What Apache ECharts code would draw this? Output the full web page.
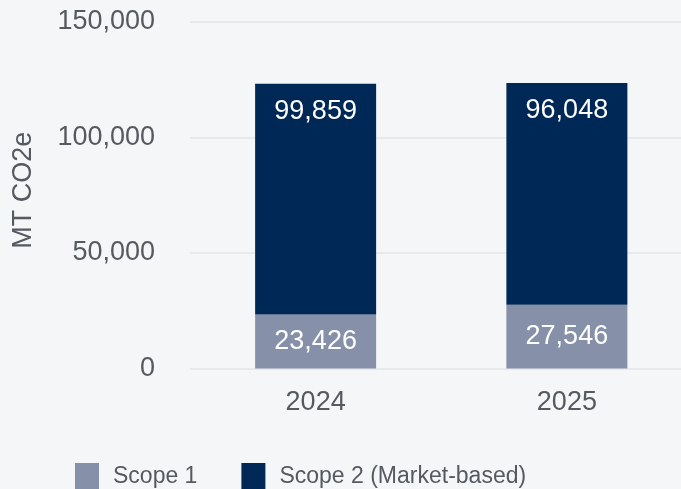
<!DOCTYPE html>
<html>
<head>
<meta charset="utf-8">
<script src="https://cdn.jsdelivr.net/npm/echarts@6/dist/echarts.min.js"></script>
<style>
html,body{margin:0;padding:0;background:#f5f6f8;}
#c{width:681px;height:489px;}
</style>
</head>
<body>
<div id="c"></div>
<script>
const categories = ['2024', '2025'];
const scope1 = [23426, 27546];
const scope2 = [99859, 96048];
const seriesNames = ['Scope 1', 'Scope 2 (Market-based)'];
const yTicks = [0, 50000, 100000, 150000];

const fontFam = '"Liberation Sans", Arial, Helvetica, sans-serif';
const chart = echarts.init(document.getElementById('c'), null, {renderer: 'canvas'});
const fmt = v => v.toLocaleString('en-US');
chart.setOption({
  backgroundColor: '#f5f6f8',
  animation: false,
  textStyle: {fontFamily: fontFam},
  grid: {left: 190, right: -11.5, top: 22, bottom: 120.5, containLabel: false, outerBoundsMode: 'none'},
  legend: {
    left: 70, top: 458,
    itemWidth: 24, itemHeight: 27, itemGap: 44,
    icon: 'rect',
    textStyle: {fontSize: 23, color: '#555a60', fontFamily: fontFam, padding: [0, 0, 0, 9]},
    data: seriesNames
  },
  xAxis: {
    type: 'category',
    data: categories,
    axisLine: {show: false},
    axisTick: {show: false},
    axisLabel: {fontSize: 27, color: '#555a60', margin: 21}
  },
  yAxis: {
    type: 'value',
    min: yTicks[0], max: yTicks[yTicks.length - 1], interval: yTicks[1] - yTicks[0],
    name: 'MT CO2e',
    nameLocation: 'middle',
    nameGap: 153,
    nameRotate: 90,
    nameTextStyle: {fontSize: 27, color: '#555a60', padding: [0, 0, 0, 10]},
    axisLine: {show: false},
    axisTick: {show: false},
    axisLabel: {fontSize: 27, color: '#555a60', margin: 35, formatter: v => fmt(v)},
    splitLine: {lineStyle: {color: '#e2e4e8', width: 1.5}}
  },
  series: [
    {
      name: seriesNames[0], type: 'bar', stack: 'total', barWidth: 121,
      data: scope1,
      itemStyle: {color: '#8690a8'},
      label: {show: true, position: 'inside', fontSize: 27, color: '#ffffff', formatter: p => fmt(p.value)}
    },
    {
      name: seriesNames[1], type: 'bar', stack: 'total', barWidth: 121,
      data: scope2,
      itemStyle: {color: '#002856'},
      label: {show: true, position: 'insideTop', distance: 14, fontSize: 27, color: '#ffffff', formatter: p => fmt(p.value)}
    }
  ]
});
</script>
</body>
</html>
